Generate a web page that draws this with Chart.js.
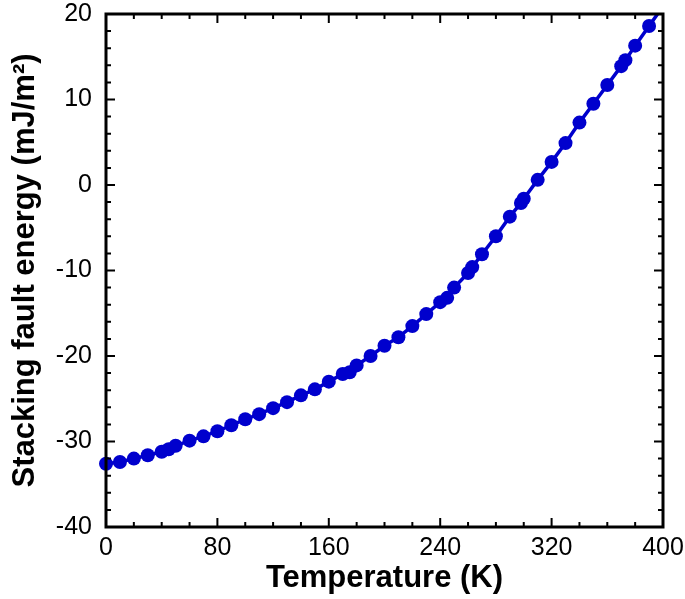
<!DOCTYPE html>
<html>
<head>
<meta charset="utf-8">
<script src="https://cdn.jsdelivr.net/npm/chart.js@4"></script>
<style>
  html, body { margin: 0; padding: 0; background: #fff; }
  #wrap { width: 685px; height: 599px; }
</style>
</head>
<body>
<div id="wrap"><canvas id="sfeChart" width="685" height="599"></canvas></div>
<script>
// temperature (K)
const temperatures = [0, 10, 20, 30, 40, 45, 50, 60, 70, 80, 90, 100, 110, 120, 130, 140, 150, 160,
  170, 175, 180, 190, 200, 210, 220, 230, 240, 245, 250, 260, 263, 270, 280, 290, 298, 300,
  310, 320, 330, 340, 350, 360, 370, 373, 380, 390, 400];
// stacking fault energy (mJ/m^2)
const sfeValues = [-32.6, -32.4, -32.0, -31.6, -31.2, -30.9, -30.5, -29.9, -29.4, -28.8, -28.1, -27.4,
  -26.8, -26.1, -25.4, -24.6, -23.9, -23.0, -22.1, -21.9, -21.1, -20.0, -18.8, -17.8, -16.5,
  -15.1, -13.7, -13.2, -12.0, -10.3, -9.6, -8.1, -6.0, -3.7, -2.1, -1.6, 0.6, 2.7, 4.9, 7.3,
  9.5, 11.7, 13.9, 14.6, 16.3, 18.6, 20.9];
const xTicks = [0, 80, 160, 240, 320, 400];
const yTicks = [-40, -30, -20, -10, 0, 10, 20];

const BLUE = 'rgb(0, 0, 205)';

// 内向きの目盛りと枠線を描く
const frameTicks = {
  id: 'frameTicks',
  afterDraw(chart) {
    const { ctx, chartArea: a, scales: { x, y } } = chart;
    ctx.save();
    ctx.strokeStyle = '#000';
    ctx.lineWidth = 2;
    for (let v = 0; v <= 400; v += 20) {
      const px = x.getPixelForValue(v);
      const len = v % 80 === 0 ? 9 : 5;
      ctx.beginPath();
      ctx.moveTo(px, a.bottom); ctx.lineTo(px, a.bottom - len);
      ctx.moveTo(px, a.top); ctx.lineTo(px, a.top + len);
      ctx.stroke();
    }
    for (let v = -40; v <= 20; v += 2) {
      const py = y.getPixelForValue(v);
      const len = v % 10 === 0 ? 9 : 5;
      ctx.beginPath();
      ctx.moveTo(a.left, py); ctx.lineTo(a.left + len, py);
      ctx.moveTo(a.right, py); ctx.lineTo(a.right - len, py);
      ctx.stroke();
    }
    ctx.lineWidth = 3;
    ctx.strokeRect(a.left, a.top, a.right - a.left, a.bottom - a.top);
    ctx.restore();
  }
};

const ctx = document.getElementById('sfeChart').getContext('2d');
new Chart(ctx, {
  type: 'line',
  data: {
    datasets: [{
      data: temperatures.map((t, i) => ({ x: t, y: sfeValues[i] })),
      borderColor: BLUE,
      backgroundColor: BLUE,
      borderWidth: 3.5,
      pointRadius: 7,
      pointBorderWidth: 0,
      pointHoverRadius: 7,
      tension: 0,
      clip: { left: 10, bottom: 10, top: 0, right: 0 }
    }]
  },
  options: {
    responsive: false,
    animation: false,
    layout: { padding: { top: 14, right: 22, left: 0, bottom: 0 } },
    plugins: { legend: { display: false }, tooltip: { enabled: false } },
    scales: {
      x: {
        type: 'linear',
        min: 0, max: 400,
        afterBuildTicks: s => { s.ticks = xTicks.map(v => ({ value: v })); },
        afterFit: s => { s.height = 72; s.paddingLeft = 0; s.paddingRight = 0; },
        grid: { display: false, drawTicks: false },
        border: { display: false },
        ticks: { color: '#000', padding: 6, maxRotation: 0,
          font: { family: 'Liberation Sans, Arial', size: 25 } },
        title: { display: true, text: 'Temperature (K)', color: '#000',
          padding: { top: 0, bottom: 2 },
          font: { family: 'Liberation Sans, Arial', size: 31, weight: 'bold' } }
      },
      y: {
        min: -40, max: 20,
        afterBuildTicks: s => { s.ticks = yTicks.map(v => ({ value: v })); },
        afterFit: s => { s.width = 106; s.paddingTop = 0; s.paddingBottom = 0; },
        grid: { display: false, drawTicks: false },
        border: { display: false },
        ticks: { color: '#000', padding: 14,
          font: { family: 'Liberation Sans, Arial', size: 25 } },
        title: { display: true, text: 'Stacking fault energy (mJ/m²)', color: '#000',
          padding: { top: 7, bottom: 0 },
          font: { family: 'Liberation Sans, Arial', size: 31, weight: 'bold' } }
      }
    }
  },
  plugins: [frameTicks]
});
</script>
</body>
</html>
